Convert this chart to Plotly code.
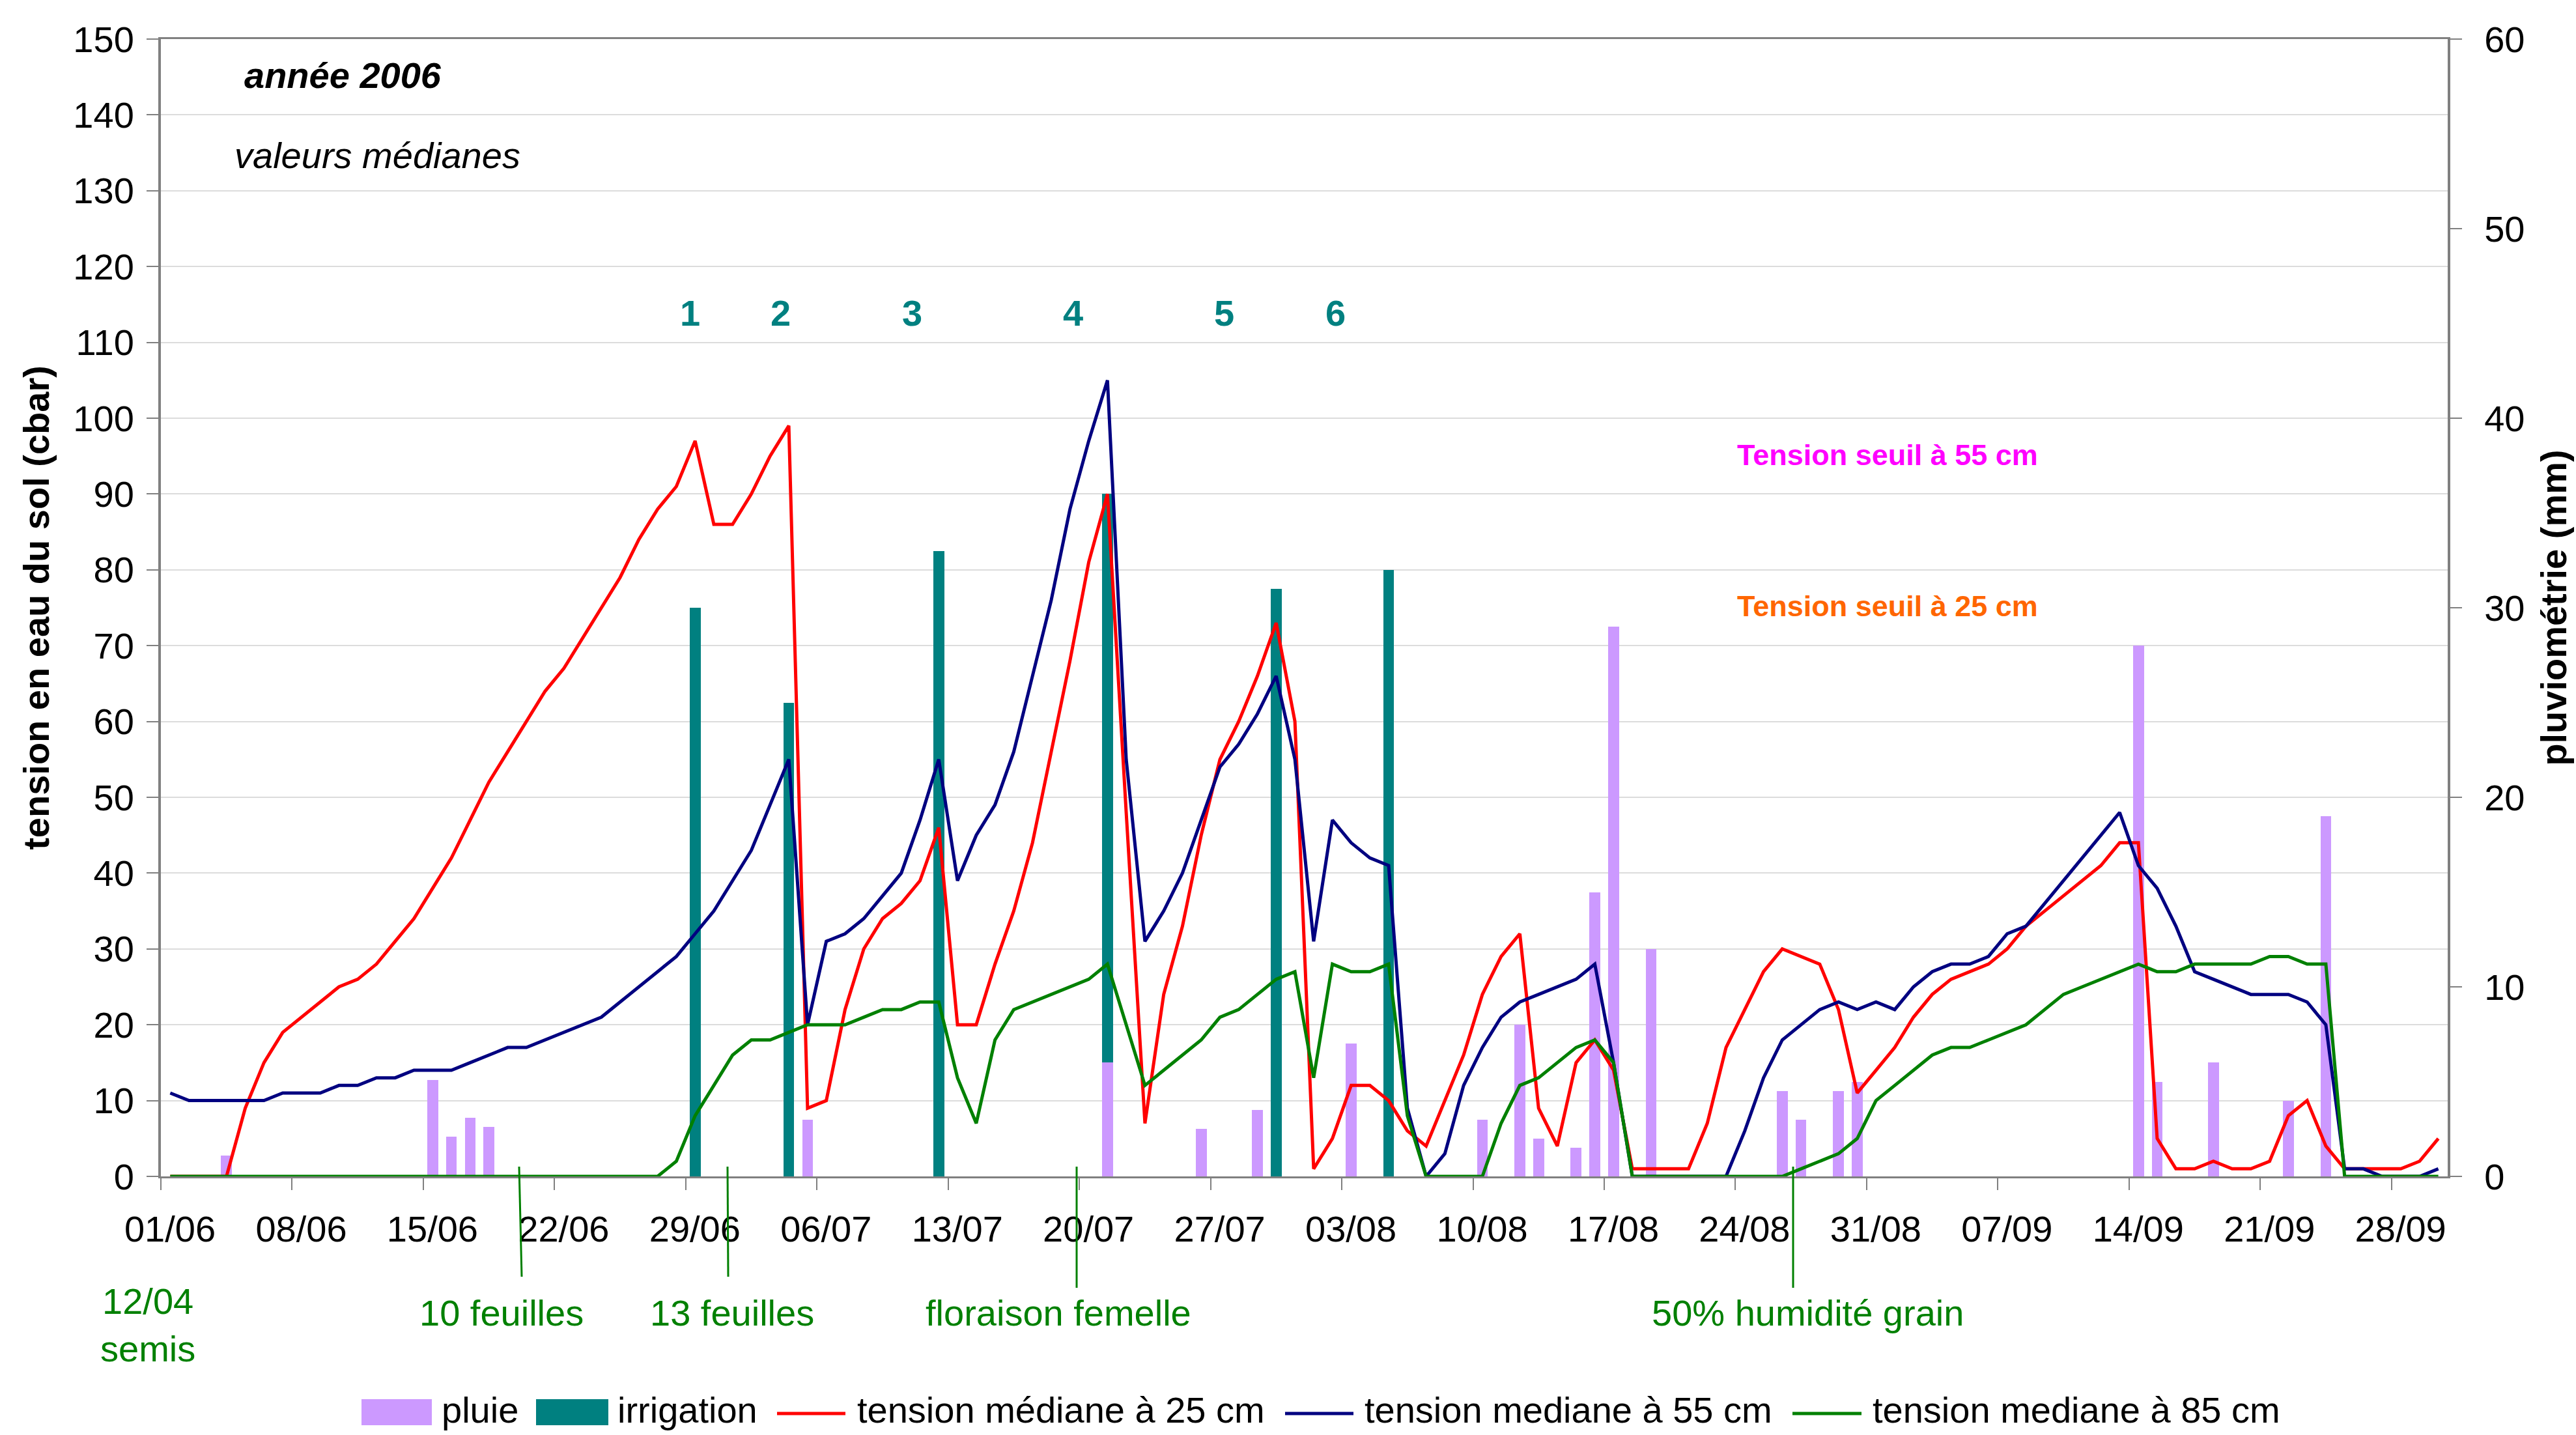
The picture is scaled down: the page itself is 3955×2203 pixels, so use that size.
import plotly.graph_objects as go
import pandas as pd

# ---------------- data ----------------
days = pd.date_range("2006-06-01 12:00", periods=122, freq="D")

tension_25 = [0, 0, 0, 0, 9, 15, 19, 21, 23, 25,
              26, 28, 31, 34, 38, 42, 47, 52, 56, 60,
              64, 67, 71, 75, 79, 84, 88, 91, 97, 86,
              86, 90, 95, 99, 9, 10, 22, 30, 34, 36,
              39, 46, 20, 20, 28, 35, 44, 56, 68, 81,
              90, 48, 7, 24, 33, 45, 55, 60, 66, 73,
              60, 1, 5, 12, 12, 10, 6, 4, 10, 16,
              24, 29, 32, 9, 4, 15, 18, 14, 1, 1,
              1, 1, 7, 17, 22, 27, 30, 29, 28, 22,
              11, 14, 17, 21, 24, 26, 27, 28, 30, 33,
              35, 37, 39, 41, 44, 44, 5, 1, 1, 2,
              1, 1, 2, 8, 10, 4, 1, 1, 1, 1,
              2, 5]

tension_55 = [11, 10, 10, 10, 10, 10, 11, 11, 11, 12,
              12, 13, 13, 14, 14, 14, 15, 16, 17, 17,
              18, 19, 20, 21, 23, 25, 27, 29, 32, 35,
              39, 43, 49, 55, 20, 31, 32, 34, 37, 40,
              47, 55, 39, 45, 49, 56, 66, 76, 88, 97,
              105, 55, 31, 35, 40, 47, 54, 57, 61, 66,
              55, 31, 47, 44, 42, 41, 9, 0, 3, 12,
              17, 21, 23, 24, 25, 26, 28, 15, 0, 0,
              0, 0, 0, 0, 6, 13, 18, 20, 22, 23,
              22, 23, 22, 25, 27, 28, 28, 29, 32, 33,
              36, 39, 42, 45, 48, 41, 38, 33, 27, 26,
              25, 24, 24, 24, 23, 20, 1, 1, 0, 0,
              0, 1]

tension_85 = [0, 0, 0, 0, 0, 0, 0, 0, 0, 0,
              0, 0, 0, 0, 0, 0, 0, 0, 0, 0,
              0, 0, 0, 0, 0, 0, 0, 2, 8, 12,
              16, 18, 18, 19, 20, 20, 20, 21, 22, 22,
              23, 23, 13, 7, 18, 22, 23, 24, 25, 26,
              28, 20, 12, 14, 16, 18, 21, 22, 24, 26,
              27, 13, 28, 27, 27, 28, 8, 0, 0, 0,
              0, 7, 12, 13, 15, 17, 18, 15, 0, 0,
              0, 0, 0, 0, 0, 0, 0, 1, 2, 3,
              5, 10, 12, 14, 16, 17, 17, 18, 19, 20,
              22, 24, 25, 26, 27, 28, 27, 27, 28, 28,
              28, 28, 29, 29, 28, 28, 0, 0, 0, 0,
              0, 0]

pluie_dates = ["2006-06-04", "2006-06-15", "2006-06-16", "2006-06-17", "2006-06-18",
               "2006-07-05", "2006-07-21", "2006-07-26", "2006-07-29", "2006-08-03",
               "2006-08-10", "2006-08-12", "2006-08-13", "2006-08-15", "2006-08-16",
               "2006-08-17", "2006-08-19", "2006-08-26", "2006-08-27", "2006-08-29",
               "2006-08-30", "2006-09-14", "2006-09-15", "2006-09-18", "2006-09-22",
               "2006-09-24"]
pluie_mm = [1.1, 5.1, 2.1, 3.1, 2.6,
            3.0, 6.0, 2.5, 3.5, 7.0,
            3.0, 8.0, 2.0, 1.5, 15.0,
            29.0, 12.0, 4.5, 3.0, 4.5,
            5.0, 28.0, 5.0, 6.0, 4.0,
            19.0]

irrigation_dates = ["2006-06-29", "2006-07-04", "2006-07-12", "2006-07-21", "2006-07-30", "2006-08-05"]
irrigation_mm = [30, 25, 33, 30, 31, 32]
irrigation_labels = ["1", "2", "3", "4", "5", "6"]

x_tick_start = "2006-06-01"
x_range = ["2006-06-01", "2006-10-01"]

# ---------------- layout helpers ----------------
W, H = 3955, 2203
L, R, T, B = 247, 3758, 60, 1806
FONT = "Liberation Sans, Arial, sans-serif"
GRAY = "#808080"
DAY_MS = 86400000


def px(xp):
    return (xp - L) / (R - L)


def py(yp):
    return (B - yp) / (B - T)


fig = go.Figure()

fig.add_bar(x=[d + " 12:00" for d in pluie_dates], y=pluie_mm, name="pluie",
            marker=dict(color="#CC99FF", line=dict(width=0)), width=0.58 * DAY_MS,
            xaxis="x", yaxis="y", showlegend=False)
fig.add_bar(x=[d + " 12:00" for d in irrigation_dates], y=irrigation_mm, name="irrigation",
            marker=dict(color="#008080", line=dict(width=0)), width=0.58 * DAY_MS,
            xaxis="x", yaxis="y", showlegend=False)

series = [("tension médiane à 25 cm", tension_25, "#FF0000"),
          ("tension mediane à 55 cm", tension_55, "#000080"),
          ("tension mediane à 85 cm", tension_85, "#008000")]
for name, vals, col in series:
    fig.add_scatter(x=days, y=vals, mode="lines", name=name,
                    line=dict(color=col, width=5), xaxis="x", yaxis="y2",
                    showlegend=False)

annotations = []
shapes = []

# texts inside the plot
annotations.append(dict(text="<b><i>année 2006</i></b>", x=px(373), y=py(115),
                        xref="paper", yref="paper", xanchor="left", yanchor="middle",
                        showarrow=False, font=dict(size=56, color="black", family=FONT)))
annotations.append(dict(text="<i>valeurs médianes</i>", x=px(358), y=py(239),
                        xref="paper", yref="paper", xanchor="left", yanchor="middle",
                        showarrow=False, font=dict(size=56, color="black", family=FONT)))
annotations.append(dict(text="<b>Tension seuil à 55 cm</b>", x=px(2665), y=py(698),
                        xref="paper", yref="paper", xanchor="left", yanchor="middle",
                        showarrow=False, font=dict(size=45, color="#FF00FF", family=FONT)))
annotations.append(dict(text="<b>Tension seuil à 25 cm</b>", x=px(2665), y=py(930),
                        xref="paper", yref="paper", xanchor="left", yanchor="middle",
                        showarrow=False, font=dict(size=45, color="#FF6600", family=FONT)))

num_x = [1059, 1198, 1400, 1647, 1879, 2050]
for lab, xp in zip(irrigation_labels, num_x):
    annotations.append(dict(text="<b>%s</b>" % lab, x=px(xp), y=py(480),
                            xref="paper", yref="paper", xanchor="center", yanchor="middle",
                            showarrow=False, font=dict(size=56, color="#008080", family=FONT)))

# growth stages below the axis
stages = [("12/04<br>semis", 227, 2034, None),
          ("10 feuilles", 770, 2015, (797, 801, 1960)),
          ("13 feuilles", 1124, 2015, (1117, 1118, 1960)),
          ("floraison femelle", 1625, 2015, (1653, 1653, 1977)),
          ("50% humidité grain", 2775, 2015, (2753, 2753, 1977))]
for txt, xc, yc, ln in stages:
    annotations.append(dict(text=txt, x=px(xc), y=py(yc), xref="paper", yref="paper",
                            xanchor="center", yanchor="middle", showarrow=False,
                            font=dict(size=56, color="#008000", family=FONT)))
    if ln:
        shapes.append(dict(type="line", xref="paper", yref="paper",
                           x0=px(ln[0]), x1=px(ln[1]), y0=py(1791), y1=py(ln[2]),
                           line=dict(color="#008000", width=3)))

# legend drawn manually (Excel style swatches)
leg_y = 2164
legend_items = [("rect", "#CC99FF", 555, 663, "pluie", 676),
                ("rect", "#008080", 823, 934, "irrigation", 946),
                ("line", "#FF0000", 1193, 1298, series[0][0], 1314),
                ("line", "#000080", 1973, 2078, series[1][0], 2093),
                ("line", "#008000", 2752, 2858, series[2][0], 2873)]
for kind, col, x0, x1, txt, xt in legend_items:
    if kind == "rect":
        shapes.append(dict(type="rect", xref="paper", yref="paper",
                           x0=px(x0), x1=px(x1), y0=py(leg_y + 24), y1=py(leg_y - 16),
                           fillcolor=col, line=dict(width=0)))
    else:
        shapes.append(dict(type="line", xref="paper", yref="paper",
                           x0=px(x0), x1=px(x1), y0=py(leg_y + 6), y1=py(leg_y + 6),
                           line=dict(color=col, width=5)))
    annotations.append(dict(text=txt, x=px(xt), y=py(leg_y), xref="paper", yref="paper",
                            xanchor="left", yanchor="middle", showarrow=False,
                            font=dict(size=56, color="black", family=FONT)))

fig.update_layout(
    width=W, height=H,
    margin=dict(l=L, r=W - R, t=T, b=H - B, pad=0),
    paper_bgcolor="white", plot_bgcolor="white",
    font=dict(family=FONT, size=56, color="black"),
    barmode="stack", bargap=0,
    showlegend=False,
    xaxis=dict(type="date", range=x_range, tick0=x_tick_start, dtick=7 * DAY_MS,
               tickformat="%d/%m", ticks="outside", ticklen=18, tickwidth=2,
               tickcolor=GRAY, showline=True, linecolor=GRAY, linewidth=3,
               mirror=True, showgrid=False, zeroline=False,
               tickfont=dict(size=56, family=FONT, color="black"),
               ticklabelshift=14, ticklabelstandoff=12, automargin=False),
    yaxis=dict(side="right", range=[0, 60], dtick=10, ticks="outside", ticklen=18,
               tickwidth=2, tickcolor=GRAY, showline=True, linecolor=GRAY, linewidth=4,
               showgrid=False, zeroline=False,
               tickfont=dict(size=56, family=FONT, color="black"),
               ticklabelstandoff=23, automargin=False,
               title=dict(text="<b>pluviométrie (mm)</b>", standoff=26,
                          font=dict(size=56, family=FONT, color="black"))),
    yaxis2=dict(side="left", overlaying="y", range=[0, 150], dtick=10, ticks="outside",
                ticklen=18, tickwidth=2, tickcolor=GRAY, showline=True, linecolor=GRAY,
                linewidth=4, showgrid=True, gridcolor="#DCDCDC", gridwidth=2,
                zeroline=False, tickfont=dict(size=56, family=FONT, color="black"),
                ticklabelstandoff=8, automargin=False,
                title=dict(text="<b>tension en eau du sol (cbar)</b>", standoff=20,
                           font=dict(size=56, family=FONT, color="black"))),
    annotations=annotations,
    shapes=shapes,
)

fig.write_html("out.html", config={"displayModeBar": False},
               post_script="document.body.style.margin='0';document.body.style.overflow='hidden';")
